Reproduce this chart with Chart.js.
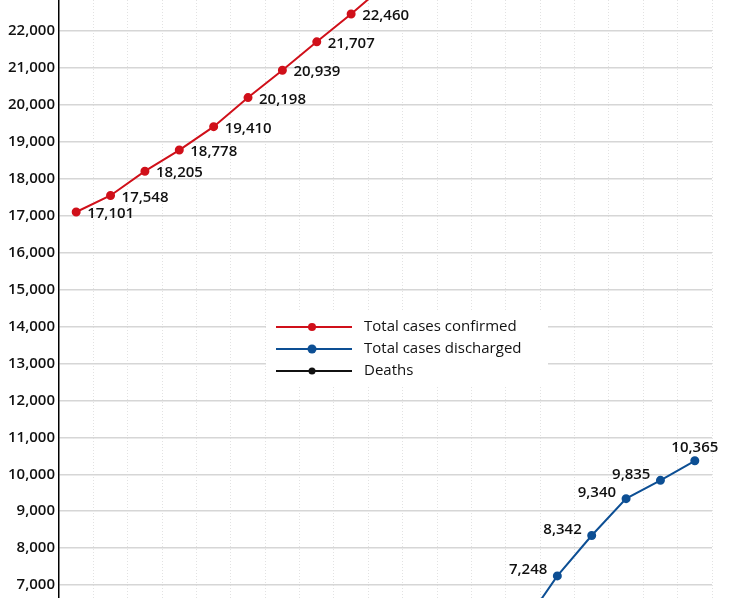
<!DOCTYPE html>
<html>
<head>
<meta charset="utf-8">
<script src="https://cdn.jsdelivr.net/npm/chart.js@4.4.1/dist/chart.umd.min.js"></script>
<style>
  html, body { margin: 0; padding: 0; background: #fff; }
  #wrap { width: 747px; height: 598px; }
</style>
</head>
<body>
<div id="wrap"><canvas id="covidChart"></canvas></div>
<script>
// Days shown (19 categories across the visible part of the chart)
const days = ['1', '2', '3', '4', '5', '6', '7', '8', '9', '10',
              '11', '12', '13', '14', '15', '16', '17', '18', '19'];

// Total cases confirmed (only the visible part; later days run off the top)
const confirmed = [17101, 17548, 18205, 18778, 19410, 20198, 20939, 21707, 22460, 23260,
                   null, null, null, null, null, null, null, null, null];

// Total cases discharged (earlier days are below the visible part)
const discharged = [null, null, null, null, null, null, null, null, null, null,
                    null, null, null, 5900, 7248, 8342, 9340, 9835, 10365];

// Deaths (entirely below the visible part)
const deaths = [];

// Which points carry a value label
const confirmedLabelled = [0, 1, 2, 3, 4, 5, 6, 7, 8];
const dischargedLabelled = [14, 15, 16, 17, 18];

// Y range of the visible window and tick values
const yMin = 6650;
const yMax = 22840;
const yTicks = [7000, 8000, 9000, 10000, 11000, 12000, 13000, 14000, 15000,
                16000, 17000, 18000, 19000, 20000, 21000, 22000, 23000];

const RED = '#d0101a';
const BLUE = '#0d4f94';
const BLACK = '#111111';
const FONT = '"Open Sans", "Noto Sans", sans-serif';

function fmt(v) {
    return v.toLocaleString('en-US');
}

// Draws value labels next to the points
const valueLabels = {
    id: 'valueLabels',
    afterDatasetsDraw(chart) {
        const ctx = chart.ctx;
        ctx.save();
        ctx.font = '600 15px ' + FONT;
        ctx.fillStyle = '#111';
        ctx.textBaseline = 'middle';

        const red = chart.getDatasetMeta(0).data;
        confirmedLabelled.forEach(i => {
            const p = red[i];
            ctx.textAlign = 'left';
            ctx.fillText(fmt(confirmed[i]), p.x + 11, p.y + 2);
        });

        const blue = chart.getDatasetMeta(1).data;
        dischargedLabelled.forEach((i, k) => {
            const p = blue[i];
            if (k === dischargedLabelled.length - 1) {
                ctx.textAlign = 'center';
                ctx.fillText(fmt(discharged[i]), p.x, p.y - 13);
            } else {
                ctx.textAlign = 'right';
                ctx.fillText(fmt(discharged[i]), p.x - 10, p.y - 6);
            }
        });
        ctx.restore();
    }
};

// Legend inside the plot area, on a white box
const innerLegend = {
    id: 'innerLegend',
    beforeDatasetsDraw(chart) {
        const ctx = chart.ctx;
        ctx.save();
        ctx.fillStyle = '#fff';
        ctx.fillRect(266, 312, 282, 74);

        const rows = [
            { text: 'Total cases confirmed', color: RED, r: 4 },
            { text: 'Total cases discharged', color: BLUE, r: 4.5 },
            { text: 'Deaths', color: BLACK, r: 3.5 }
        ];
        rows.forEach((row, i) => {
            const y = 327 + i * 22;
            ctx.strokeStyle = row.color;
            ctx.lineWidth = 2;
            ctx.beginPath();
            ctx.moveTo(276, y);
            ctx.lineTo(352, y);
            ctx.stroke();
            ctx.fillStyle = row.color;
            ctx.beginPath();
            ctx.arc(312, y, row.r, 0, Math.PI * 2);
            ctx.fill();
            ctx.fillStyle = '#111';
            ctx.font = '15px ' + FONT;
            ctx.textAlign = 'left';
            ctx.textBaseline = 'middle';
            ctx.fillText(row.text, 364, y);
        });
        ctx.restore();
    }
};

const ctx = document.getElementById('covidChart').getContext('2d');
new Chart(ctx, {
    type: 'line',
    data: {
        labels: days,
        datasets: [
            {
                label: 'Total cases confirmed',
                data: confirmed,
                borderColor: RED,
                backgroundColor: RED,
                borderWidth: 2,
                pointRadius: 3.5,
                pointHoverRadius: 3.5,
                tension: 0,
                fill: false
            },
            {
                label: 'Total cases discharged',
                data: discharged,
                borderColor: BLUE,
                backgroundColor: BLUE,
                borderWidth: 2,
                pointRadius: 3.5,
                pointHoverRadius: 3.5,
                tension: 0,
                fill: false
            },
            {
                label: 'Deaths',
                data: deaths,
                borderColor: BLACK,
                backgroundColor: BLACK,
                borderWidth: 2,
                pointRadius: 3.5,
                fill: false
            }
        ]
    },
    options: {
        responsive: true,
        maintainAspectRatio: false,
        animation: false,
        layout: {
            autoPadding: false,
            padding: { left: 0, right: 35, top: 0, bottom: 0 }
        },
        scales: {
            x: {
                type: 'category',
                offset: true,
                ticks: { display: false },
                border: { display: false, dash: [1, 2] },
                grid: {
                    offset: true,
                    color: '#e2e2e2',
                    lineWidth: 1,
                    drawTicks: false
                },
                afterFit(scale) {
                    scale.height = 0;
                    scale.paddingLeft = 0;
                    scale.paddingRight = 0;
                }
            },
            y: {
                type: 'linear',
                min: yMin,
                max: yMax,
                afterBuildTicks(scale) {
                    scale.ticks = yTicks.map(v => ({ value: v }));
                },
                afterFit(scale) {
                    scale.width = 59;
                    scale.paddingTop = 0;
                    scale.paddingBottom = 0;
                },
                ticks: {
                    padding: 4,
                    color: '#111',
                    font: { family: FONT, size: 15, weight: '600' },
                    callback: v => fmt(v)
                },
                border: { display: true, color: '#000', width: 1.5 },
                grid: { color: '#d6d6d6', lineWidth: 1.5, drawTicks: false }
            }
        },
        plugins: {
            legend: { display: false },
            tooltip: { enabled: false }
        }
    },
    plugins: [innerLegend, valueLabels]
});
</script>
</body>
</html>
